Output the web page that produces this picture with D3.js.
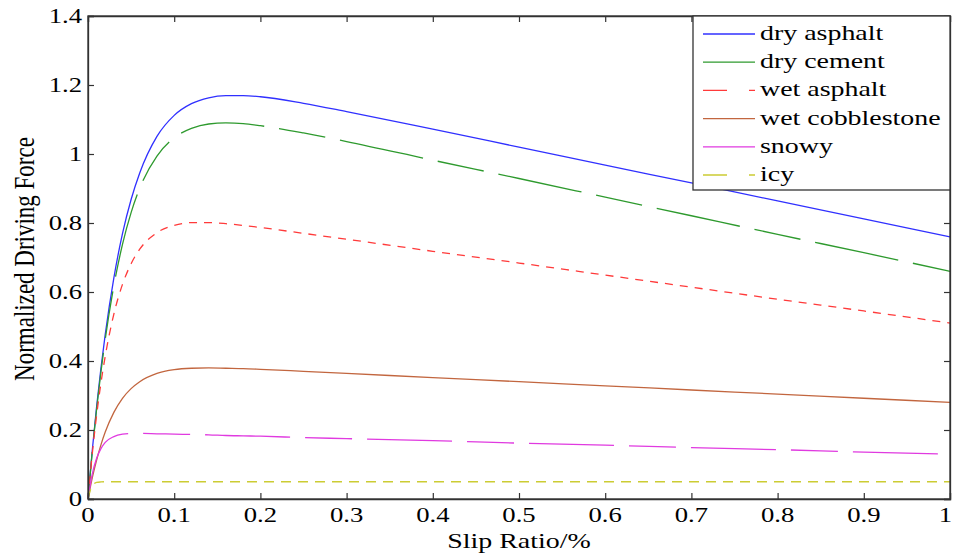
<!DOCTYPE html>
<html>
<head>
<meta charset="utf-8">
<script src="https://cdn.jsdelivr.net/npm/d3@7"></script>
<style>
  html, body { margin: 0; padding: 0; background: #fff; }
  svg { display: block; }
  text { font-family: "Liberation Serif", "Times New Roman", serif; fill: #000; }
</style>
</head>
<body>
<svg id="chart" width="953" height="553"></svg>
<script>
// ---- data ----
const slip = [0, 0.005, 0.01, 0.015, 0.02, 0.03, 0.04, 0.05, 0.06, 0.08, 0.10, 0.12, 0.14, 0.16, 0.18, 0.20, 0.25, 0.3, 0.4, 0.5, 0.6, 0.7, 0.8, 0.9, 1.0];
const dryAsphalt = [0, 0.142, 0.268, 0.379, 0.477, 0.641, 0.769, 0.868, 0.945, 1.051, 1.112, 1.146, 1.163, 1.169, 1.169, 1.166, 1.147, 1.123, 1.072, 1.020, 0.968, 0.916, 0.864, 0.812, 0.760];
const dryCement = [0, 0.139, 0.261, 0.368, 0.463, 0.618, 0.738, 0.830, 0.901, 0.994, 1.047, 1.074, 1.087, 1.090, 1.088, 1.082, 1.061, 1.036, 0.982, 0.929, 0.875, 0.821, 0.767, 0.714, 0.660];
const wetAsphalt = [0, 0.132, 0.243, 0.336, 0.414, 0.536, 0.622, 0.682, 0.724, 0.772, 0.793, 0.801, 0.801, 0.798, 0.793, 0.787, 0.770, 0.753, 0.718, 0.684, 0.649, 0.614, 0.579, 0.545, 0.510];
const wetCobblestone = [0, 0.062, 0.113, 0.157, 0.194, 0.251, 0.292, 0.320, 0.340, 0.364, 0.375, 0.379, 0.380, 0.379, 0.378, 0.376, 0.370, 0.364, 0.352, 0.340, 0.328, 0.316, 0.304, 0.292, 0.280];
const snowy = [0, 0.073, 0.118, 0.146, 0.164, 0.181, 0.188, 0.190, 0.190, 0.189, 0.188, 0.187, 0.186, 0.184, 0.183, 0.182, 0.178, 0.175, 0.169, 0.162, 0.156, 0.149, 0.143, 0.136, 0.130];
const icy = [0, 0.039, 0.048, 0.0495, 0.05, 0.05, 0.05, 0.05, 0.05, 0.05, 0.05, 0.05, 0.05, 0.05, 0.05, 0.05, 0.05, 0.05, 0.05, 0.05, 0.05, 0.05, 0.05, 0.05, 0.05];
const seriesNames = ["dry asphalt", "dry cement", "wet asphalt", "wet cobblestone", "snowy", "icy"];
const xTicks = [0, 0.1, 0.2, 0.3, 0.4, 0.5, 0.6, 0.7, 0.8, 0.9, 1];
const yTicks = [0, 0.2, 0.4, 0.6, 0.8, 1, 1.2, 1.4];
const xLabel = "Slip Ratio/%";
const yLabel = "Normalized Driving Force";

// ---- styles ----
const seriesValues = [dryAsphalt, dryCement, wetAsphalt, wetCobblestone, snowy, icy];
const colors = ["#3030ff", "#2e9a2e", "#ff3a3a", "#c2663f", "#e03ae0", "#cccc33"];
const dashes = [null, "47,15,85,15", "8,7", null, "47,15,85,15", "10,7"];
const dashOffsets = [0, 0, 0, 0, 62, 0];
const legendDashes = [null, null, "24,22,6,100", null, null, "24,22,6,100"];
const SX = 1.27; // horizontal stretch of the reference text

const svg = d3.select("#chart");
const L = 88, R = 950, T = 16, B = 499;
const x = d3.scaleLinear().domain([0, 1]).range([L, R]);
const y = d3.scaleLinear().domain([0, 1.4]).range([B, T]);

// ---- lines ----
const line = d3.line().x(d => x(d[0])).y(d => y(d[1])).curve(d3.curveMonotoneX);
const plot = svg.append("g");
seriesValues.forEach((vals, i) => {
  const pts = slip.map((s, k) => [s, vals[k]]);
  plot.append("path")
    .attr("d", line(pts))
    .attr("fill", "none")
    .attr("stroke", colors[i])
    .attr("stroke-width", 1.3)
    .attr("stroke-dasharray", dashes[i])
    .attr("stroke-dashoffset", dashOffsets[i]);
});

// ---- axes (box with inward ticks) ----
const axisColor = "#333";
const axB = svg.append("g").attr("transform", `translate(0,${B})`).call(d3.axisBottom(x).tickValues(xTicks).tickSize(-6).tickFormat(""));
const axT = svg.append("g").attr("transform", `translate(0,${T})`).call(d3.axisTop(x).tickValues(xTicks).tickSize(-6).tickFormat(""));
const axL = svg.append("g").attr("transform", `translate(${L},0)`).call(d3.axisLeft(y).tickValues(yTicks).tickSize(-6).tickFormat(""));
const axR = svg.append("g").attr("transform", `translate(${R},0)`).call(d3.axisRight(y).tickValues(yTicks).tickSize(-6).tickFormat(""));
[axB, axT, axL, axR].forEach(a => {
  a.selectAll(".domain").attr("stroke", axisColor).attr("stroke-width", 1.3);
  a.selectAll(".tick line").attr("stroke", axisColor).attr("stroke-width", 1.2);
});
svg.append("rect").attr("x", L).attr("y", T).attr("width", R - L).attr("height", B - T)
  .attr("fill", "none").attr("stroke", axisColor).attr("stroke-width", 1.3);

// tick labels
const fmt = v => String(v);
const lastX = xTicks[xTicks.length - 1];
svg.append("g").selectAll("text").data(xTicks).join("text")
  .attr("transform", d => d === lastX ? `translate(952,522) scale(${SX},1)` : `translate(${x(d)},522) scale(${SX},1)`)
  .attr("text-anchor", d => d === lastX ? "end" : "middle")
  .attr("font-size", 21)
  .text(fmt);
svg.append("g").selectAll("text").data(yTicks).join("text")
  .attr("transform", d => `translate(82,${y(d) + 7}) scale(${SX},1)`)
  .attr("text-anchor", "end")
  .attr("font-size", 21)
  .text(fmt);

// axis titles
svg.append("text")
  .attr("transform", `translate(${(L + R) / 2},548) scale(${SX},1)`)
  .attr("text-anchor", "middle")
  .attr("font-size", 22)
  .text(xLabel);
svg.append("text")
  .attr("transform", `translate(34,259) scale(${SX},1) rotate(-90)`)
  .attr("text-anchor", "middle")
  .attr("font-size", 23)
  .text(yLabel);

// ---- legend ----
const lg = svg.append("g");
lg.append("rect").attr("x", 693).attr("y", 16).attr("width", 257).attr("height", 174)
  .attr("fill", "#fff").attr("stroke", axisColor).attr("stroke-width", 1.3);
const rowY = d3.scaleLinear().domain([0, 5]).range([34, 175]);
seriesNames.forEach((name, i) => {
  const cy = rowY(i);
  lg.append("line").attr("x1", 703).attr("x2", 755).attr("y1", cy).attr("y2", cy)
    .attr("stroke", colors[i]).attr("stroke-width", 1.3)
    .attr("stroke-dasharray", legendDashes[i]);
  lg.append("text")
    .attr("transform", `translate(760,${cy + 6}) scale(${SX},1)`)
    .attr("font-size", 22)
    .text(name);
});
</script>
</body>
</html>
